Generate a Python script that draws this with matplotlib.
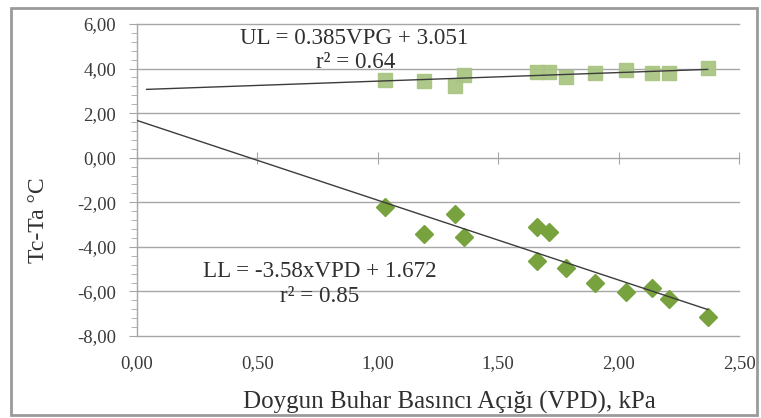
import matplotlib
matplotlib.use('Agg')
import matplotlib.pyplot as plt
from matplotlib.patches import Rectangle
from matplotlib.ticker import MultipleLocator
import numpy as np

# ---- data ----
vpd_ul = [1.03, 1.19, 1.32, 1.36, 1.66, 1.71, 1.78, 1.90, 2.03, 2.14, 2.21, 2.37]
tcta_ul = [3.49, 3.44, 3.22, 3.71, 3.85, 3.85, 3.62, 3.80, 3.94, 3.80, 3.80, 4.03]
vpd_ll = [1.03, 1.19, 1.32, 1.36, 1.66, 1.71, 1.66, 1.78, 1.90, 2.03, 2.14, 2.21, 2.37]
tcta_ll = [-2.21, -3.42, -2.52, -3.55, -3.10, -3.33, -4.63, -4.94, -5.61, -6.02, -5.84, -6.33, -7.14]

ul_slope, ul_intercept = 0.385, 3.051
ll_slope, ll_intercept = -3.58, 1.672
ul_x_range = [0.04, 2.37]
ll_x_range = [0.0, 2.37]

x_ticks = [0.0, 0.5, 1.0, 1.5, 2.0, 2.5]
x_tick_labels = ["0,00", "0,50", "1,00", "1,50", "2,00", "2,50"]
y_ticks = [-8, -6, -4, -2, 0, 2, 4, 6]
y_tick_labels = ["-8,00", "-6,00", "-4,00", "-2,00", "0,00", "2,00", "4,00", "6,00"]

ul_eq = "UL = 0.385VPG + 3.051"
ul_r2 = "r\u00b2 = 0.64"
ll_eq = "LL = -3.58xVPD + 1.672"
ll_r2 = "r\u00b2 = 0.85"
x_label = "Doygun Buhar Basıncı Açığı (VPD), kPa"
y_label = "Tc-Ta °C"

# ---- style ----
plt.rcParams['font.family'] = ['Liberation Serif', 'DejaVu Serif']
text_col = '#3a3a3a'
grid_col = '#a6a6a6'

W, H = 761, 418
fig = plt.figure(figsize=(W / 100, H / 100), dpi=100)
ax = fig.add_axes([137 / W, 1 - 336 / H, (739 - 137) / W, (336 - 24) / H])

ax.set_xlim(0, 2.5)
ax.set_ylim(-8, 6)

# gridlines
for yv in y_ticks:
    if yv != 0:
        ax.axhline(yv, color=grid_col, lw=1.0, zorder=1, clip_on=False)

for s in ['top', 'right', 'bottom']:
    ax.spines[s].set_visible(False)
ax.spines['left'].set_color(grid_col)
ax.spines['left'].set_linewidth(1.0)

ax.set_yticks(y_ticks)
ax.set_yticklabels(y_tick_labels, fontsize=13.5, color=text_col)
ax.yaxis.set_minor_locator(MultipleLocator(0.4))
ax.tick_params(axis='y', which='major', length=6, color=grid_col, pad=9, direction='out')
ax.tick_params(axis='y', which='minor', length=4, color=grid_col, direction='out')

ax.set_xticks(x_ticks)
ax.set_xticklabels(x_tick_labels, fontsize=13.5, color=text_col)
ax.tick_params(axis='x', length=0, pad=14)

# horizontal axis crossing at y = 0
sec = ax.secondary_xaxis((0 - (-8)) / 14)
sec.set_xticks(x_ticks)
sec.set_xticklabels([])
sec.tick_params(axis='x', direction='inout', length=8, color=grid_col)
sec.spines['bottom'].set_color(grid_col)
sec.spines['top'].set_color(grid_col)
sec.spines['bottom'].set_linewidth(1.0)
sec.spines['top'].set_linewidth(1.0)

# scatter points
ax.plot(vpd_ul, tcta_ul, linestyle='none', marker='s', markersize=10.5,
        color='#aac583', markeredgecolor='#aac583', alpha=0.95, zorder=3)
ax.plot(vpd_ll, tcta_ll, linestyle='none', marker='D', markersize=9,
        color='#78a23e', markeredgecolor='#78a23e', zorder=3)

# trend lines
xu = np.array(ul_x_range)
ax.plot(xu, ul_slope * xu + ul_intercept, color='#3c3c3c', lw=1.0, zorder=4)
xl = np.array(ll_x_range)
ax.plot(xl, ll_slope * xl + ll_intercept, color='#3c3c3c', lw=1.0, zorder=4)

# annotations
ax.text(0.90, 5.37, ul_eq, fontsize=16.6, ha='center', va='center', color='#303030', zorder=5)
ax.text(0.91, 4.25, ul_r2, fontsize=16.6, ha='center', va='center', color='#303030', zorder=5)
ax.text(0.76, -5.12, ll_eq, fontsize=16.6, ha='center', va='center', color='#303030', zorder=5)
ax.text(0.76, -6.22, ll_r2, fontsize=16.6, ha='center', va='center', color='#303030', zorder=5)

# axis titles
fig.text(449 / W, 1 - 402 / H, x_label, fontsize=18, ha='center', va='center', color='#303030')
fig.text(38 / W, 1 - 220 / H, y_label, fontsize=17, ha='center', va='center', rotation=90, color='#303030')

# chart border
fig.patches.append(Rectangle((11 / W, 1 - 415 / H), (757 - 11) / W, (415 - 8) / H,
                             transform=fig.transFigure, fill=False, edgecolor='#9a9a9a', lw=2.0))

fig.savefig('out.png', dpi=100)
